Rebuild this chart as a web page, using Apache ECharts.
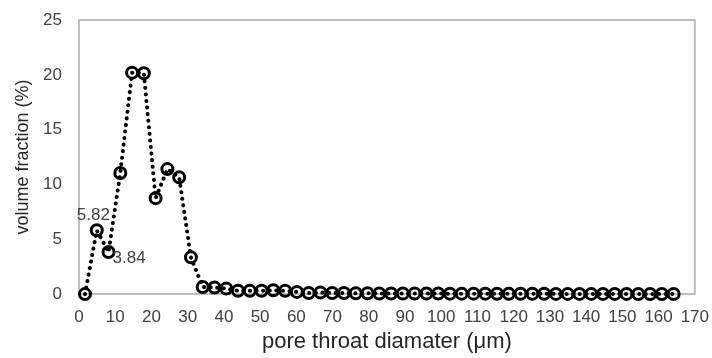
<!DOCTYPE html>
<html>
<head>
<meta charset="utf-8">
<script src="https://cdn.jsdelivr.net/npm/echarts@6/dist/echarts.min.js"></script>
<style>
html,body{margin:0;padding:0;background:#fff;}
#c{width:712px;height:358px;}
</style>
</head>
<body>
<div id="c"></div>
<script>
const diameters = [1.65, 4.9, 8.15, 11.4, 14.65, 17.9, 21.15, 24.4, 27.65, 30.9,
  34.15, 37.4, 40.65, 43.9, 47.15, 50.4, 53.65, 56.9, 60.15, 63.4,
  66.65, 69.9, 73.15, 76.4, 79.65, 82.9, 86.15, 89.4, 92.65, 95.9,
  99.15, 102.4, 105.65, 108.9, 112.15, 115.4, 118.65, 121.9, 125.15, 128.4,
  131.65, 134.9, 138.15, 141.4, 144.65, 147.9, 151.15, 154.4, 157.65, 160.9, 164.15];
const volumeFraction = [0, 5.82, 3.84, 11.05, 20.2, 20.15, 8.75, 11.4, 10.65, 3.35,
  0.65, 0.6, 0.5, 0.3, 0.3, 0.3, 0.35, 0.3, 0.2, 0.1,
  0.15, 0.1, 0.1, 0.08, 0.08, 0.06, 0.06, 0.06, 0.05, 0.05,
  0.05, 0.04, 0.04, 0.04, 0.04, 0.03, 0.03, 0.03, 0.03, 0.03,
  0.02, 0.02, 0.02, 0.02, 0.02, 0.02, 0.02, 0.01, 0.01, 0.01, 0.01];
const labelledPoints = {1: 'above', 2: 'right'};
const xTicks = {min: 0, max: 170, interval: 10};
const yTicks = {min: 0, max: 25, interval: 5};

const data = diameters.map((d, i) => {
  const item = {value: [d, volumeFraction[i]]};
  if (labelledPoints[i] === 'above') {
    item.label = {show: true, formatter: String(volumeFraction[i]), position: [-13, -16], color: '#404040', fontSize: 17};
  } else if (labelledPoints[i] === 'right') {
    item.label = {show: true, formatter: String(volumeFraction[i]), position: [11, 5], color: '#404040', fontSize: 17};
  }
  return item;
});

const chart = echarts.init(document.getElementById('c'));
chart.setOption({
  animation: false,
  textStyle: {fontFamily: 'Liberation Sans, Arial, sans-serif'},
  grid: {left: 79, top: 20, right: 17, bottom: 63, show: true, borderColor: '#bfbfbf', borderWidth: 2, backgroundColor: 'transparent'},
  xAxis: {
    type: 'value', min: xTicks.min, max: xTicks.max, interval: xTicks.interval,
    name: 'pore throat diamater (μm)', nameLocation: 'middle', nameGap: 36,
    nameTextStyle: {fontSize: 22, color: '#262626'},
    axisLine: {show: false}, axisTick: {show: false}, splitLine: {show: false},
    axisLabel: {fontSize: 17, color: '#404040', margin: 15}
  },
  yAxis: {
    type: 'value', min: yTicks.min, max: yTicks.max, interval: yTicks.interval,
    name: 'volume fraction (%)', nameLocation: 'middle', nameGap: 47,
    nameTextStyle: {fontSize: 18, color: '#262626'},
    axisLine: {show: false}, axisTick: {show: false}, splitLine: {show: false},
    axisLabel: {fontSize: 17, color: '#404040', margin: 17}
  },
  series: [{
    type: 'line',
    data: data,
    symbol: 'circle',
    symbolSize: 11,
    itemStyle: {color: 'rgba(255,255,255,0)', borderColor: '#000', borderWidth: 3},
    lineStyle: {color: '#000', width: 4, type: [0.1, 6.5], cap: 'round'},
    emphasis: {disabled: true}
  }]
});
</script>
</body>
</html>
